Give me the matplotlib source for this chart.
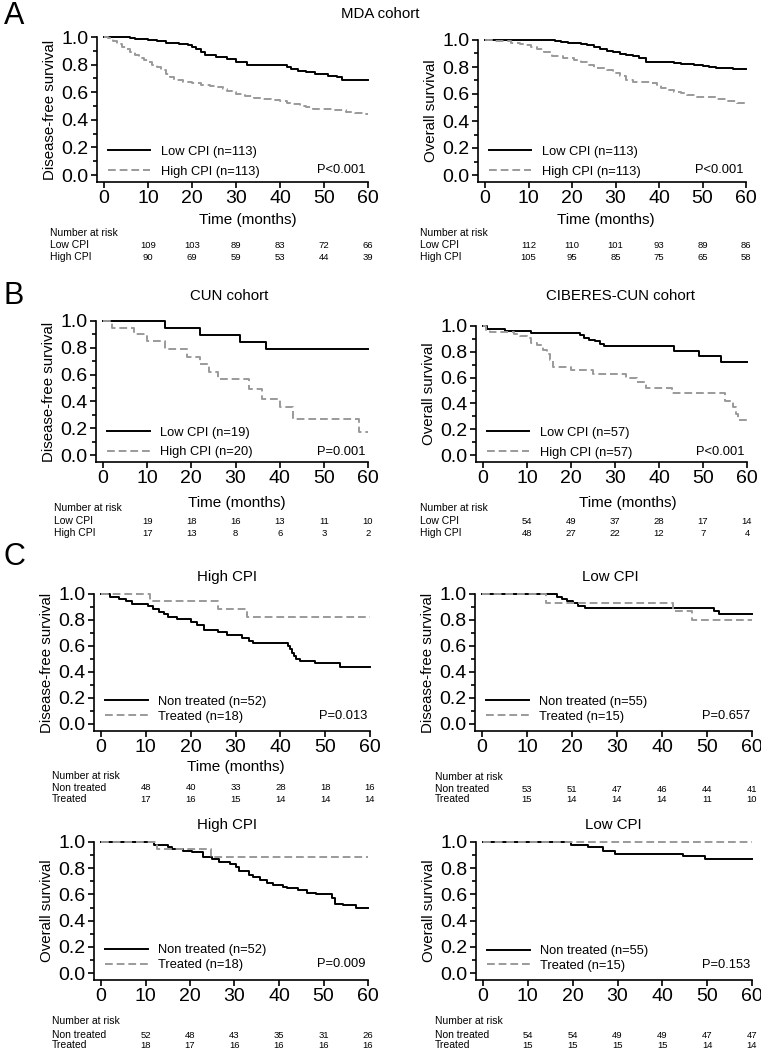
"""
Kaplan-Meier panels: CPI groups, MDA / CUN / CIBERES-CUN cohorts
"""
import numpy as np
import matplotlib
matplotlib.use("Agg")
import matplotlib.pyplot as plt
from matplotlib import transforms

plt.rcParams['font.family'] = ['Liberation Sans', 'DejaVu Sans']

W, H = 761, 1050
months = [10, 20, 30, 40, 50, 60]

# ---- A: MDA cohort, disease-free survival
mda_dfs_low_t = [6, 7, 10, 12, 14, 17, 19, 20, 21, 22, 23, 25.5, 28, 30, 32.5, 41.5, 42.5, 44, 46, 48, 51, 53, 54]
mda_dfs_low_s = [0.99, 0.985, 0.98, 0.97, 0.96, 0.95, 0.94, 0.93, 0.91, 0.89, 0.87, 0.855, 0.84, 0.82, 0.80,
                 0.785, 0.77, 0.755, 0.745, 0.73, 0.72, 0.71, 0.69]
mda_dfs_high_t = [1, 2, 3, 4, 5, 6, 7, 8, 9, 10, 11, 12, 13, 14, 15, 16, 18, 20, 22, 24, 26, 27, 28, 29, 30,
                  32, 34, 36, 38, 40, 41.5, 43, 44.5, 46, 47.5, 50, 52, 55, 57, 59]
mda_dfs_high_s = [0.99, 0.97, 0.95, 0.93, 0.91, 0.89, 0.87, 0.85, 0.835, 0.82, 0.80, 0.78, 0.76, 0.735, 0.71,
                  0.69, 0.675, 0.665, 0.655, 0.645, 0.635, 0.625, 0.61, 0.60, 0.585, 0.575, 0.56, 0.55, 0.545,
                  0.535, 0.525, 0.515, 0.50, 0.49, 0.48, 0.475, 0.47, 0.46, 0.45, 0.44]
mda_dfs_risk_low = [109, 103, 89, 83, 72, 66]
mda_dfs_risk_high = [90, 69, 59, 53, 44, 39]

# ---- A: MDA cohort, overall survival
mda_os_low_t = [16, 17.5, 19, 20.5, 22, 23.5, 25, 26.5, 28, 29.5, 31, 32.5, 34, 35.5, 37, 43.5, 45, 48, 50,
                51.5, 53, 57]
mda_os_low_s = [0.99, 0.985, 0.98, 0.975, 0.97, 0.96, 0.95, 0.935, 0.92, 0.91, 0.90, 0.89, 0.88, 0.865, 0.84,
                0.83, 0.82, 0.815, 0.81, 0.80, 0.79, 0.785]
mda_os_high_t = [2, 4, 6, 8, 9.5, 10.5, 12, 13.5, 15.5, 18, 20.5, 22, 23.5, 25, 28, 29.5, 31, 32.5, 34, 38,
                 39.5, 40.5, 42, 43.5, 45, 46.5, 48.5, 51, 53, 55.5, 58]
mda_os_high_s = [0.995, 0.99, 0.98, 0.97, 0.96, 0.95, 0.93, 0.91, 0.88, 0.865, 0.85, 0.84, 0.815, 0.79, 0.775,
                 0.755, 0.73, 0.705, 0.69, 0.68, 0.665, 0.645, 0.63, 0.615, 0.605, 0.595, 0.58, 0.575, 0.565,
                 0.55, 0.535]
mda_os_risk_low = [112, 110, 101, 93, 89, 86]
mda_os_risk_high = [105, 95, 85, 75, 65, 58]

# ---- B: CUN cohort DFS, CIBERES-CUN cohort OS
cun_low_t = [14, 22, 31, 37]
cun_low_s = [0.947, 0.895, 0.842, 0.789]
cun_high_t = [2, 7, 10, 14, 19, 22, 24, 26, 33, 36, 40, 43, 58]
cun_high_s = [0.95, 0.90, 0.85, 0.79, 0.735, 0.68, 0.62, 0.565, 0.49, 0.42, 0.355, 0.265, 0.175]
cun_risk_low = [19, 18, 16, 13, 11, 10]
cun_risk_high = [17, 13, 8, 6, 3, 2]

cib_low_t = [1, 5, 11, 22, 23, 24, 25.5, 26.5, 27.5, 43.5, 49, 54]
cib_low_s = [0.98, 0.965, 0.948, 0.93, 0.91, 0.895, 0.88, 0.86, 0.845, 0.81, 0.765, 0.72]
cib_high_t = [0.7, 1.7, 7, 8.5, 10, 11, 12.2, 13.7, 14.5, 15.2, 16, 20, 25, 32.5, 35, 37, 43, 55, 56.8, 57.5, 58]
cib_high_s = [0.97, 0.955, 0.94, 0.925, 0.905, 0.87, 0.85, 0.815, 0.78, 0.74, 0.68, 0.66, 0.63, 0.60, 0.565,
              0.52, 0.48, 0.42, 0.37, 0.32, 0.27]
cib_risk_low = [54, 49, 37, 28, 17, 14]
cib_risk_high = [48, 27, 22, 12, 7, 4]

# ---- C: treated vs non treated
hi_dfs_non_t = [2, 4, 5.5, 7, 10.5, 11.5, 13, 14, 15, 17, 20, 21.5, 23, 26, 28, 31.5, 33, 34, 41.8, 42.2,
                42.6, 43, 43.6, 44.4, 47.7, 53.2]
hi_dfs_non_s = [0.98, 0.965, 0.945, 0.925, 0.905, 0.885, 0.865, 0.845, 0.825, 0.805, 0.785, 0.765, 0.725,
                0.705, 0.685, 0.66, 0.64, 0.625, 0.60, 0.575, 0.55, 0.525, 0.50, 0.485, 0.47, 0.435]
hi_dfs_trt_t = [11, 26, 32.5]
hi_dfs_trt_s = [0.944, 0.885, 0.825]
hi_dfs_risk_non = [48, 40, 33, 28, 18, 16]
hi_dfs_risk_trt = [17, 16, 15, 14, 14, 14]

lo_dfs_non_t = [16.6, 17.7, 18.8, 20.3, 21.4, 22.9, 51.5, 52.6]
lo_dfs_non_s = [0.98, 0.965, 0.945, 0.93, 0.91, 0.89, 0.87, 0.85]
lo_dfs_trt_t = [14.2, 42.4, 46.7]
lo_dfs_trt_s = [0.933, 0.867, 0.80]
lo_dfs_risk_non = [53, 51, 47, 46, 44, 41]
lo_dfs_risk_trt = [15, 14, 14, 14, 11, 10]

hi_os_non_t = [12, 15, 16, 18.5, 20.5, 23, 25, 26.5, 29, 30.3, 31, 33.3, 34.2, 35.7, 37.2, 38.7, 40.9, 41.7,
               44.3, 46.2, 48.4, 52, 52.6, 54.4, 57.4]
hi_os_non_s = [0.98, 0.96, 0.945, 0.935, 0.92, 0.885, 0.87, 0.85, 0.83, 0.81, 0.775, 0.75, 0.73, 0.71, 0.685,
               0.67, 0.66, 0.65, 0.63, 0.61, 0.60, 0.575, 0.53, 0.52, 0.50]
hi_os_trt_t = [12.5, 24.8]
hi_os_trt_s = [0.944, 0.889]
hi_os_risk_non = [52, 48, 43, 35, 31, 26]
hi_os_risk_trt = [18, 17, 16, 16, 16, 16]

lo_os_non_t = [19.7, 23.5, 26.7, 29.4, 44.7, 49.5]
lo_os_non_s = [0.98, 0.963, 0.93, 0.91, 0.89, 0.87]
lo_os_trt_t = []
lo_os_trt_s = []
lo_os_risk_non = [54, 54, 49, 49, 47, 47]
lo_os_risk_trt = [15, 15, 15, 15, 14, 14]


fig = plt.figure(figsize=(W / 100, H / 100), dpi=100)


def fx(px):
    return px / W


def fy(py):
    return 1 - py / H


def km(ax, t, s, **kw):
    tt = [0] + list(t) + [60]
    ss = [1.0] + list(s) + [s[-1] if len(s) else 1.0]
    ax.step(tt, ss, where='post', clip_on=False, **kw)


def panel(x0, x1, ytop, ybot, ylabel, curves, labels, pval, leg_y, lspace,
          risk, risk_names, risk_x, risk_y, xlabel_pos=None, title=None):
    # x0/x1: pixel of month 0 / 60, ytop/ybot: pixel of 1.0 / 0.0
    pad = 7
    ax = fig.add_axes([fx(x0 - pad), fy(ybot + pad), fx(x1 - x0 + pad), (ybot + pad - ytop) / H])
    ax.set_xlim(-pad * 60 / (x1 - x0), 60)
    ax.set_ylim(-pad / (ybot - ytop), 1.0)
    (t1, s1), (t2, s2) = curves
    km(ax, t1, s1, color='black', lw=1.4, label=labels[0])
    km(ax, t2, s2, color='#9a9a9a', lw=1.4, ls=(0, (4, 2)), label=labels[1])
    for sp in ['top', 'right']:
        ax.spines[sp].set_visible(False)
    for sp in ['left', 'bottom']:
        ax.spines[sp].set_linewidth(1.2)
    ax.spines['left'].set_bounds(ax.get_ylim()[0], 1.0)
    ax.set_xticks([0] + months)
    ax.set_yticks(np.arange(0, 1.01, 0.2))
    ax.set_yticks(np.arange(0.1, 1.0, 0.2), minor=True)
    ax.yaxis.set_major_formatter(matplotlib.ticker.FormatStrFormatter('%.1f'))
    ax.tick_params(labelsize=14, length=4, width=1.2, pad=2)
    ax.tick_params(axis='y', which='minor', length=3, width=1.2)
    ax.set_ylabel(ylabel, fontsize=10.8, labelpad=3)
    ax.legend(loc='lower left', bbox_to_anchor=(0.04, leg_y), frameon=False, fontsize=9.3,
              handlelength=3.3, handletextpad=0.8, labelspacing=lspace, borderpad=0,
              borderaxespad=0)
    ax.text(59.5, pval[1], pval[0], ha='right', va='center', fontsize=9.3)
    if xlabel_pos is not None:
        fig.text(fx(xlabel_pos[0]), fy(xlabel_pos[1]), 'Time (months)', ha='center', va='center', fontsize=11)
    if title is not None:
        fig.text(fx(title[1]), fy(title[2]), title[0], ha='center', va='center', fontsize=10.8)
    # number at risk table
    tr = transforms.blended_transform_factory(ax.transData, fig.transFigure)
    fig.text(fx(risk_x), fy(risk_y[0]), 'Number at risk', ha='left', va='center', fontsize=7.5)
    for row, name, yy in zip(risk, risk_names, risk_y[1:]):
        fig.text(fx(risk_x), fy(yy), name, ha='left', va='center', fontsize=7.5)
        for m, n in zip(months, row):
            ax.text(m, fy(yy), str(n), transform=tr, ha='center', va='center', fontsize=6.8, clip_on=False)
    return ax


cpi_names = ['Low CPI', 'High CPI']
trt_names = ['Non treated', 'Treated']

panel(104, 368, 37, 175, 'Disease-free survival',
      [(mda_dfs_low_t, mda_dfs_low_s), (mda_dfs_high_t, mda_dfs_high_s)],
      ['Low CPI (n=113)', 'High CPI (n=113)'], ('P<0.001', 0.036), 0.03, 0.6,
      [mda_dfs_risk_low, mda_dfs_risk_high], cpi_names, 50, (233, 245, 257), xlabel_pos=(248, 220))
panel(485, 746, 40, 175, 'Overall survival',
      [(mda_os_low_t, mda_os_low_s), (mda_os_high_t, mda_os_high_s)],
      ['Low CPI (n=113)', 'High CPI (n=113)'], ('P<0.001', 0.036), 0.03, 0.6,
      [mda_os_risk_low, mda_os_risk_high], cpi_names, 420, (233, 245, 257), xlabel_pos=(606, 220))

panel(103, 368, 321, 455, 'Disease-free survival',
      [(cun_low_t, cun_low_s), (cun_high_t, cun_high_s)],
      ['Low CPI (n=19)', 'High CPI (n=20)'], ('P=0.001', 0.025), 0.025, 0.6,
      [cun_risk_low, cun_risk_high], cpi_names, 54, (508, 521, 533), xlabel_pos=(237, 503),
      title=('CUN cohort', 229, 296))
panel(483, 747, 326, 455, 'Overall survival',
      [(cib_low_t, cib_low_s), (cib_high_t, cib_high_s)],
      ['Low CPI (n=57)', 'High CPI (n=57)'], ('P<0.001', 0.025), 0.025, 0.6,
      [cib_risk_low, cib_risk_high], cpi_names, 420, (508, 521, 533), xlabel_pos=(628, 503),
      title=('CIBERES-CUN cohort', 620, 296))

panel(101, 370, 594, 724, 'Disease-free survival',
      [(hi_dfs_non_t, hi_dfs_non_s), (hi_dfs_trt_t, hi_dfs_trt_s)],
      ['Non treated (n=52)', 'Treated (n=18)'], ('P=0.013', 0.06), 0.06, 0.25,
      [hi_dfs_risk_non, hi_dfs_risk_trt], trt_names, 52, (776, 788, 799), xlabel_pos=(236, 767),
      title=('High CPI', 227, 577))
panel(482, 752, 594, 724, 'Disease-free survival',
      [(lo_dfs_non_t, lo_dfs_non_s), (lo_dfs_trt_t, lo_dfs_trt_s)],
      ['Non treated (n=55)', 'Treated (n=15)'], ('P=0.657', 0.06), 0.06, 0.25,
      [lo_dfs_risk_non, lo_dfs_risk_trt], trt_names, 435, (777, 789, 799),
      title=('Low CPI', 610, 577))

panel(101, 368, 842, 973, 'Overall survival',
      [(hi_os_non_t, hi_os_non_s), (hi_os_trt_t, hi_os_trt_s)],
      ['Non treated (n=52)', 'Treated (n=18)'], ('P=0.009', 0.065), 0.065, 0.2,
      [hi_os_risk_non, hi_os_risk_trt], trt_names, 52, (1021, 1035, 1045),
      title=('High CPI', 227, 825))
panel(483, 752, 842, 973, 'Overall survival',
      [(lo_os_non_t, lo_os_non_s), (lo_os_trt_t, lo_os_trt_s)],
      ['Non treated (n=55)', 'Treated (n=15)'], ('P=0.153', 0.06), 0.06, 0.2,
      [lo_os_risk_non, lo_os_risk_trt], trt_names, 435, (1021, 1035, 1045),
      title=('Low CPI', 613, 825))

fig.text(fx(380), fy(14), 'MDA cohort', ha='center', va='center', fontsize=10.8)
for letter, yy in [('A', 16), ('B', 296), ('C', 557)]:
    fig.text(fx(14), fy(yy), letter, ha='center', va='center', fontsize=22)

fig.savefig('out.png', dpi=100)
